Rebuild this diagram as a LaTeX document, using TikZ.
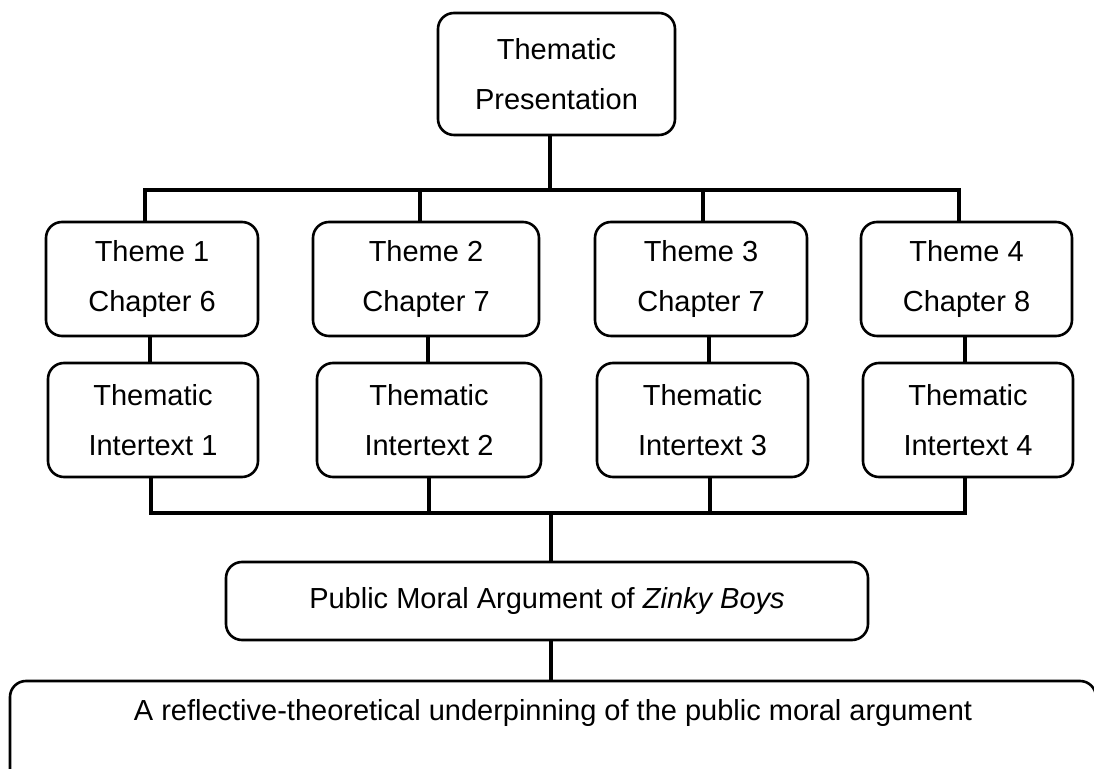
\documentclass[tikz,border=0pt]{standalone}
\usepackage{fontspec}
\setmainfont{Liberation Sans}
\begin{document}
\begin{tikzpicture}[x=0.5pt, y=-0.5pt,
    block/.style={draw, line width=1.3pt, rounded corners=8pt, align=center,
      inner sep=0pt, font=\fontsize{14.5}{25}\selectfont},
    link/.style={line width=2pt}]
  \useasboundingbox (0,0) rectangle (1094,769);
  % boxes
  \node[block, minimum width=118.5pt, minimum height=61pt] (top) at (556.5,74) {Thematic\\Presentation};
  \foreach \i/\x/\w/\ch in {1/152/106/6, 2/426/113/7, 3/701/106/7, 4/966.5/105.5/8}
    \node[block, minimum width=\w pt, minimum height=57pt] (theme-\i) at (\x,279) {Theme \i\\Chapter \ch};
  \foreach \i/\x/\w in {1/153/105, 2/429/112, 3/702.5/105.5, 4/968/105}
    \node[block, minimum width=\w pt, minimum height=57pt] (inter-\i) at (\x,420) {Thematic\\Intertext \i};
  \node[block, minimum width=321pt, minimum height=39pt] (public) at (547,601)
    {Public Moral Argument of \textit{Zinky Boys}};
  \node[block, minimum width=543pt, minimum height=54pt] (reflect) at (553,735)
    {A reflective-theoretical underpinning of the public moral argument\\\mbox{}};
  % upper bus
  \coordinate (upper-bus) at (550,190);
  \foreach \i/\x in {1/145,2/420,3/703,4/959}
    \coordinate (drop-\i) at (\x,190);
  \draw[link] (top.south -| upper-bus) -- (upper-bus);
  \draw[link] (theme-1.north -| drop-1) -- (drop-1) -- (drop-4) -- (theme-4.north -| drop-4);
  \foreach \i in {2,3}
    \draw[link] (drop-\i) -- (theme-\i.north -| drop-\i);
  % theme to intertext
  \foreach \i/\x in {1/150,2/428,3/709,4/965} {
    \coordinate (link-\i) at (\x,350);
    \draw[link] (theme-\i.south -| link-\i) -- (inter-\i.north -| link-\i);
  }
  % lower bus
  \coordinate (lower-bus) at (551,513);
  \foreach \i/\x in {1/151,2/429,3/710,4/965}
    \coordinate (join-\i) at (\x,513);
  \draw[link] (inter-1.south -| join-1) -- (join-1) -- (join-4) -- (inter-4.south -| join-4);
  \foreach \i in {2,3}
    \draw[link] (inter-\i.south -| join-\i) -- (join-\i);
  \draw[link] (lower-bus) -- (public.north -| lower-bus);
  \draw[link] (public.south -| lower-bus) -- (reflect.north -| lower-bus);
\end{tikzpicture}
\end{document}
